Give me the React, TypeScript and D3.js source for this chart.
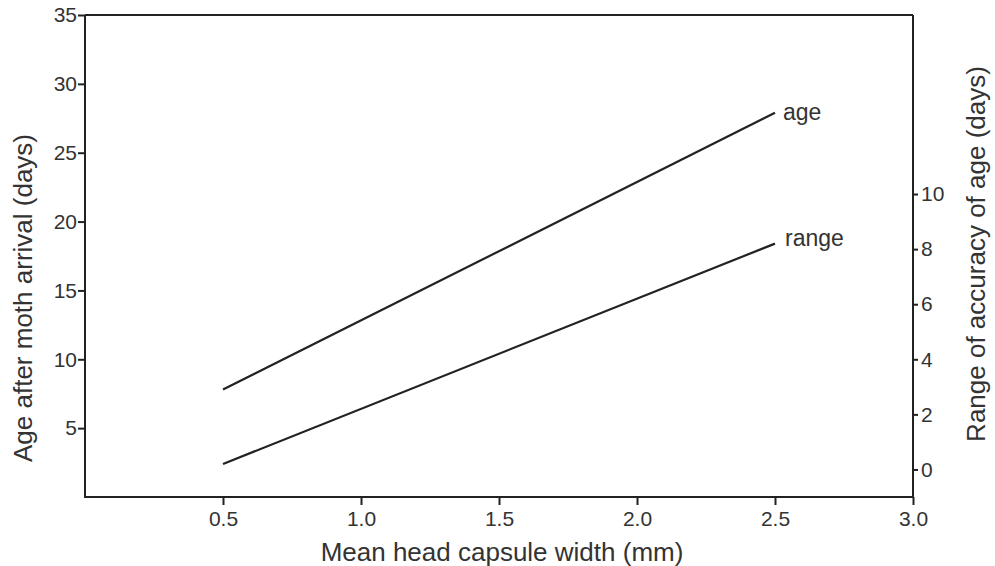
import React, { useRef, useEffect } from 'react';
import * as d3 from 'd3';

// head capsule width (mm) at the two ends of the fitted lines
const widths = [0.5, 2.5];
// age after moth arrival (days), left axis
const ageValues = [7.8, 27.9];
// range of accuracy of age (days), right axis
const rangeValues = [0.2, 8.2];

const xTicks = [0.5, 1.0, 1.5, 2.0, 2.5, 3.0];
const leftTicks = [5, 10, 15, 20, 25, 30, 35];
const rightTicks = [0, 2, 4, 6, 8, 10];

const App = () => {
  const svgRef = useRef<SVGSVGElement>(null);
  const width = 995;
  const height = 566;

  useEffect(() => {
    const svg = d3.select(svgRef.current);
    svg.selectAll('*').remove();

    const margin = { top: 15, right: 82, bottom: 69, left: 85 };
    const x = d3.scaleLinear().domain([0, 3]).range([margin.left, width - margin.right]);
    const yLeft = d3.scaleLinear().domain([0, 35]).range([height - margin.bottom, margin.top]);
    const yRight = d3.scaleLinear().domain([-1, 16.5]).range([height - margin.bottom, margin.top]);

    const ink = '#222';
    const textInk = '#333';
    const font = '"Liberation Sans", Arial, sans-serif';

    // frame
    const x0 = x(0);
    const x1 = x(3);
    const yTop = yLeft(35);
    const yBot = yLeft(0);
    svg.append('path')
      .attr('d', `M${x0},${yTop}L${x1},${yTop}M${x0},${yTop}L${x0},${yBot}L${x1},${yBot}M${x1},${yTop}L${x1},${yBot}`)
      .attr('fill', 'none')
      .attr('stroke', ink)
      .attr('stroke-width', 2);

    // bottom axis
    const xAxis = d3.axisBottom(x).tickValues(xTicks).tickSize(8).tickPadding(6).tickFormat(d3.format('.1f'));
    const gx = svg.append('g').attr('transform', `translate(0,${yBot})`).call(xAxis);
    gx.select('.domain').remove();

    // left axis
    const yAxisL = d3.axisLeft(yLeft).tickValues(leftTicks).tickSize(7).tickPadding(1).tickFormat(d3.format('d'));
    const gl = svg.append('g').attr('transform', `translate(${x0},0)`).call(yAxisL);
    gl.select('.domain').remove();

    // right axis
    const yAxisR = d3.axisRight(yRight).tickValues(rightTicks).tickSize(5).tickPadding(3).tickFormat(d3.format('d'));
    const gr = svg.append('g').attr('transform', `translate(${x1},0)`).call(yAxisR);
    gr.select('.domain').remove();

    [gx, gl, gr].forEach(g => {
      g.selectAll('line').attr('stroke', ink).attr('stroke-width', 2);
      g.selectAll('text')
        .attr('fill', textInk)
        .style('font-family', font)
        .style('font-size', '21px');
    });

    // lines
    const ageLine = d3.line<number>()
      .x((_, i) => x(widths[i]))
      .y(d => yLeft(d));
    const rangeLine = d3.line<number>()
      .x((_, i) => x(widths[i]))
      .y(d => yRight(d));

    svg.append('path')
      .attr('d', ageLine(ageValues))
      .attr('fill', 'none')
      .attr('stroke', ink)
      .attr('stroke-width', 2.2);
    svg.append('path')
      .attr('d', rangeLine(rangeValues))
      .attr('fill', 'none')
      .attr('stroke', ink)
      .attr('stroke-width', 2.2);

    // line labels
    svg.append('text')
      .attr('x', x(widths[1]) + 8)
      .attr('y', yLeft(ageValues[1]))
      .attr('dy', '0.32em')
      .attr('fill', textInk)
      .style('font-family', font)
      .style('font-size', '23px')
      .text('age');
    svg.append('text')
      .attr('x', x(widths[1]) + 10)
      .attr('y', yRight(rangeValues[1]))
      .attr('dy', '0.1em')
      .attr('fill', textInk)
      .style('font-family', font)
      .style('font-size', '23px')
      .text('range');

    // axis titles
    svg.append('text')
      .attr('x', (x0 + x1) / 2 + 3)
      .attr('y', 561)
      .attr('text-anchor', 'middle')
      .attr('fill', textInk)
      .style('font-family', font)
      .style('font-size', '26px')
      .text('Mean head capsule width (mm)');

    svg.append('text')
      .attr('transform', 'translate(32,298) rotate(-90)')
      .attr('text-anchor', 'middle')
      .attr('fill', textInk)
      .style('font-family', font)
      .style('font-size', '26px')
      .text('Age after moth arrival (days)');

    svg.append('text')
      .attr('transform', 'translate(985,254) rotate(-90)')
      .attr('text-anchor', 'middle')
      .attr('fill', textInk)
      .style('font-family', font)
      .style('font-size', '26px')
      .text('Range of accuracy of age (days)');
  }, []);

  return (
    <svg
      ref={svgRef}
      width={width}
      height={height}
      style={{ position: 'absolute', left: 0, top: 0, background: '#fff' }}
    />
  );
};

export default App;
